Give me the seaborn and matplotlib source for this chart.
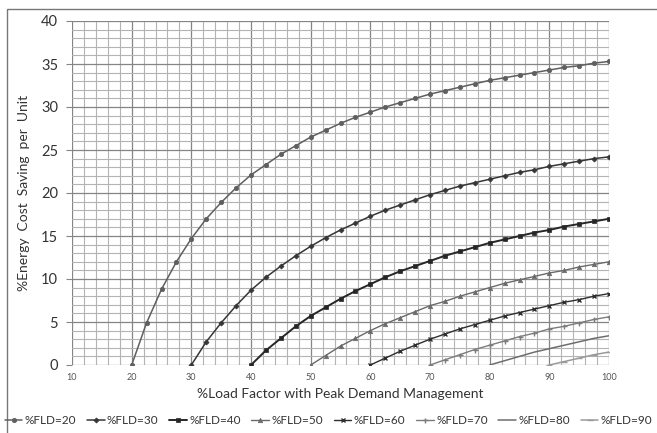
import pandas as pd
import matplotlib
matplotlib.use("Agg")
import matplotlib.pyplot as plt
from matplotlib.patches import Rectangle
from matplotlib.ticker import MultipleLocator
import seaborn as sns

# ----------------------------------------------------------
# Data (markers every 2.5 % load factor)
# ----------------------------------------------------------
load_factor = [20.0, 22.5, 25.0, 27.5, 30.0, 32.5, 35.0, 37.5, 40.0, 42.5, 45.0,
               47.5, 50.0, 52.5, 55.0, 57.5, 60.0, 62.5, 65.0, 67.5, 70.0, 72.5,
               75.0, 77.5, 80.0, 82.5, 85.0, 87.5, 90.0, 92.5, 95.0, 97.5, 100.0]

fld_20 = [0.0, 4.9, 8.8, 12.0, 14.7, 17.0, 18.9, 20.6, 22.1, 23.3, 24.5, 25.5,
          26.5, 27.3, 28.1, 28.8, 29.4, 30.0, 30.5, 31.0, 31.5, 31.9, 32.3,
          32.7, 33.1, 33.4, 33.7, 34.0, 34.3, 34.6, 34.8, 35.1, 35.3]
fld_30 = [0.0, 2.7, 4.9, 6.9, 8.7, 10.2, 11.5, 12.7, 13.8, 14.8, 15.7, 16.5,
          17.3, 18.0, 18.6, 19.2, 19.8, 20.3, 20.8, 21.2, 21.6, 22.0, 22.4,
          22.7, 23.1, 23.4, 23.7, 24.0, 24.2]
fld_40 = [0.0, 1.7, 3.1, 4.5, 5.7, 6.7, 7.7, 8.6, 9.4, 10.2, 10.9, 11.5, 12.1,
          12.7, 13.2, 13.7, 14.2, 14.6, 15.0, 15.4, 15.7, 16.1, 16.4, 16.7, 17.0]
fld_50 = [0.0, 1.1, 2.2, 3.1, 4.0, 4.8, 5.5, 6.2, 6.9, 7.4, 8.0, 8.5, 9.0, 9.5,
          9.9, 10.3, 10.7, 11.0, 11.4, 11.7, 12.0]
fld_60 = [0.0, 0.8, 1.6, 2.3, 3.0, 3.6, 4.2, 4.7, 5.2, 5.7, 6.1, 6.5, 6.9, 7.3,
          7.6, 8.0, 8.3]
fld_70 = [0.0, 0.6, 1.2, 1.8, 2.3, 2.8, 3.3, 3.7, 4.2, 4.5, 4.9, 5.3, 5.6]
fld_80 = [0.0, 0.5, 1.0, 1.5, 1.9, 2.3, 2.7, 3.1, 3.4]
fld_90 = [0.0, 0.4, 0.8, 1.2, 1.5]

series_labels = ["%FLD=20", "%FLD=30", "%FLD=40", "%FLD=50",
                 "%FLD=60", "%FLD=70", "%FLD=80", "%FLD=90"]
series_values = [fld_20, fld_30, fld_40, fld_50, fld_60, fld_70, fld_80, fld_90]

# styling per series: (color, marker, marker size, line width)
styles = [
    ("#5f5f5f", "o", 3.2, 1.1),
    ("#363636", "D", 2.6, 1.1),
    ("#262626", "s", 3.4, 1.4),
    ("#6a6a6a", "^", 3.2, 1.0),
    ("#2e2e2e", "x", 3.2, 1.0),
    ("#7c7c7c", "+", 3.6, 1.0),
    ("#6e6e6e", None, 0, 1.1),
    ("#9a9a9a", "_", 4.0, 1.1),
]

# build a long table for seaborn
rows = []
for label, vals in zip(series_labels, series_values):
    xs = load_factor[-len(vals):]
    for x, y in zip(xs, vals):
        rows.append({"lf": x, "saving": y, "series": label})
df = pd.DataFrame(rows)

sns.set_style("white")
plt.rcParams["font.family"] = ["Lato", "DejaVu Sans"]

fig = plt.figure(figsize=(6.57, 4.33), dpi=100)
ax = fig.add_axes([72 / 657, 1 - 365 / 433, (609 - 72) / 657, (365 - 21) / 433])

for label, (color, marker, ms, lw) in zip(series_labels, styles):
    sub = df[df["series"] == label]
    sns.lineplot(data=sub, x="lf", y="saving", ax=ax, color=color, lw=lw,
                 marker=marker if marker else "", markersize=ms,
                 markeredgecolor=color, markeredgewidth=1.0 if marker in ("x", "+", "_") else 0.5,
                 label=label, legend=False, zorder=3)

ax.set_xlim(10, 100)
ax.set_ylim(0, 40)
ax.xaxis.set_major_locator(MultipleLocator(10))
ax.xaxis.set_minor_locator(MultipleLocator(2))
ax.yaxis.set_major_locator(MultipleLocator(5))
ax.yaxis.set_minor_locator(MultipleLocator(1))

ax.grid(which="minor", color="#b4b4b4", lw=0.8)
ax.grid(which="major", color="#858585", lw=0.9)
ax.set_axisbelow(True)
for s in ax.spines.values():
    s.set_visible(False)

ax.tick_params(axis="y", which="major", length=4, color="#858585", labelsize=10.5,
               labelcolor="#333333", pad=6, left=True)
ax.tick_params(axis="x", which="major", length=0, labelsize=6.5, labelcolor="#555555", pad=6)
ax.tick_params(which="minor", length=0)

ax.set_xlabel("%Load Factor with Peak Demand Management", fontsize=10, color="#333333", labelpad=4)
ax.set_ylabel("%Energy  Cost  Saving  per  Unit", fontsize=10, color="#333333", labelpad=8)

handles, labels = ax.get_legend_handles_labels()
fig.legend(handles, labels, loc="center", bbox_to_anchor=(0.5, 1 - 421 / 433), ncol=8,
           frameon=False, fontsize=8.5, handlelength=1.5, handletextpad=0.2,
           columnspacing=0.9, labelcolor="#333333")

# outer chart border
fig.patches.append(Rectangle((7 / 657, -0.1), 1.2, 0.1 + 1 - 9 / 433,
                             transform=fig.transFigure, fill=False,
                             edgecolor="#777777", lw=1.0))

fig.savefig("out.png", dpi=100)
